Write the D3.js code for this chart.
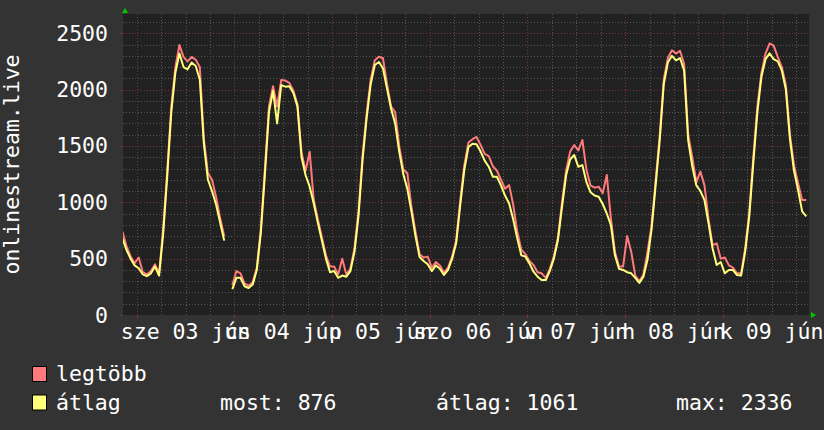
<!DOCTYPE html>
<meta charset="utf-8">
<script src="https://d3js.org/d3.v7.min.js"></script>
<style>
  body { margin: 0; background: #333333; }
  text { font-family: "DejaVu Sans Mono", monospace; fill: #ffffff; font-size: 21.5px; }
</style>

<div id="graph"></div>

<script>

  // one sample per hour, first one at 2020-06-02 20:30 UTC
  var startTime = Date.UTC(2020, 5, 2, 20, 30);
  var stepMs = 3600 * 1000;

  // átlag (average)
  var avgValues = [
    680, 577, 500, 440, 415, 360, 345, 370, 430, 350, 720, 1230,
    1800, 2150, 2320, 2200, 2180, 2240, 2210, 2090, 1520, 1200, 1100, 980,
    820, 660, null, 230, 330, 330, 255, 240, 270, 399, 730, 1250,
    1800, 1990, 1700, 2040, 2026, 2030, 1970, 1849, 1400, 1240, 1139, 990,
    820, 660, 500, 380, 390, 330, 350, 340, 390, 560, 880, 1380,
    1750, 2050, 2218, 2245, 2190, 2010, 1830, 1700, 1450, 1250, 1120, 920,
    700, 515, 480, 450, 390, 440, 410, 355, 400, 500, 640, 980,
    1290, 1490, 1520, 1515, 1450, 1370, 1316, 1227, 1227, 1150, 1060, 990,
    850, 680, 530, 518, 458, 384, 340, 310, 310, 390, 500, 665,
    960, 1240, 1380, 1420, 1316, 1330, 1180, 1090, 1060, 1050, 985, 900,
    800, 530, 410, 400, 380, 370, 330, 285, 340, 490, 760, 1150,
    1550, 2050, 2240, 2300, 2260, 2280, 2170, 1550, 1320, 1150, 1100, 1020,
    813, 590, 444, 470, 370, 400, 399, 355, 350, 560, 873, 1350,
    1800, 2115, 2270, 2322, 2270, 2250, 2170, 2000, 1560, 1280, 1109, 920,
    876
  ];

  // legtöbb (maximum)
  var maxValues = [
    740, 610, 520, 460, 510, 380, 360, 390, 450, 370, 760, 1280,
    1850, 2200, 2396, 2290, 2250, 2290, 2265, 2200, 1560, 1260, 1200, 1050,
    860, 700, null, 265, 390, 370, 280, 260, 290, 420, 760, 1300,
    1850, 2030, 1850, 2085, 2080, 2060, 1990, 1870, 1440, 1280, 1449, 1020,
    850, 690, 530, 430, 430, 360, 500, 360, 410, 590, 920, 1420,
    1790, 2090, 2260, 2292, 2280, 2050, 1850, 1800, 1500, 1290, 1260, 960,
    740, 540, 510, 518, 420, 470, 440, 375, 420, 520, 660, 1020,
    1330, 1530, 1560, 1580, 1510, 1430, 1410, 1320, 1280, 1200, 1120, 1153,
    980, 740, 580, 540, 480, 444, 380, 370, 330, 410, 520, 690,
    1000, 1280, 1450, 1508, 1460, 1553, 1290, 1150, 1130, 1139, 1080, 1242,
    860, 560, 430, 430, 700, 562, 350, 300, 360, 560, 790, 1190,
    1590, 2090, 2280, 2350, 2320, 2345, 2230, 1600, 1400, 1180, 1272, 1150,
    850, 620, 636, 500, 510, 440, 420, 370, 370, 590, 910, 1400,
    1850, 2150, 2320, 2410, 2390, 2290, 2200, 2040, 1600, 1330, 1170, 1020,
    1020
  ];

  var yTicks = [0, 500, 1000, 1500, 2000, 2500];
  var dayLabels = ["sze 03 jún", "cs 04 jún", "p 05 jún", "szo 06 jún",
                   "v 07 jún", "h 08 jún", "k 09 jún"];
  var yTitle = "onlinestream.live";
  var legendNames = ["legtöbb", "átlag"];
  var legendColors = ["#ff7b7b", "#ffff7b"];
  var legendStats = ["most: 876", "átlag: 1061", "max: 2336"];

  // set the dimensions and margins of the graph
  var margin = {top: 14, right: 15, bottom: 115, left: 123},
      width = 686,
      height = 301;

  var root = d3.select("#graph")
    .append("svg")
      .attr("width", 824)
      .attr("height", 430)
      .style("display", "block");

  root.append("rect")
      .attr("width", 824).attr("height", 430)
      .attr("fill", "#333333");

  var svg = root.append("g")
      .attr("transform", "translate(" + margin.left + "," + margin.top + ")");

  // scales
  var x = d3.scaleUtc()
    .domain([Date.UTC(2020, 5, 2, 20, 38), Date.UTC(2020, 5, 9, 21, 11)])
    .range([0, width]);

  var y = d3.scaleLinear()
    .domain([0, 2671])
    .range([height, 0]);

  // plot background
  svg.append("rect")
      .attr("width", width).attr("height", height)
      .attr("fill", "#212121");

  // grid
  var minorGrid = "#575757", majorGrid = "#7a3434";
  var hMinor = d3.range(100, 2700, 100).filter(function(v) { return v % 500 != 0 && y(v) > 0; });
  var days = d3.utcDay.range(x.domain()[0], x.domain()[1]);
  var sixHours = d3.utcHour.every(6).range(x.domain()[0], x.domain()[1])
      .filter(function(d) { return d.getUTCHours() != 0; });

  var grid = svg.append("g")
      .attr("shape-rendering", "crispEdges")
      .attr("stroke-dasharray", "1,2");

  grid.selectAll(".hmin").data(hMinor).enter().append("line")
      .attr("x1", 0).attr("x2", width)
      .attr("y1", function(d) { return Math.round(y(d)) + 0.5; })
      .attr("y2", function(d) { return Math.round(y(d)) + 0.5; })
      .attr("stroke", minorGrid);

  grid.selectAll(".vmin").data(sixHours).enter().append("line")
      .attr("y1", 0).attr("y2", height)
      .attr("x1", function(d) { return Math.round(x(d)) + 0.5; })
      .attr("x2", function(d) { return Math.round(x(d)) + 0.5; })
      .attr("stroke", minorGrid);

  grid.selectAll(".hmaj").data(yTicks.slice(1)).enter().append("line")
      .attr("x1", 0).attr("x2", width)
      .attr("y1", function(d) { return Math.round(y(d)) + 0.5; })
      .attr("y2", function(d) { return Math.round(y(d)) + 0.5; })
      .attr("stroke", majorGrid);

  grid.selectAll(".vmaj").data(days).enter().append("line")
      .attr("y1", 0).attr("y2", height)
      .attr("x1", function(d) { return Math.round(x(d)) + 0.5; })
      .attr("x2", function(d) { return Math.round(x(d)) + 0.5; })
      .attr("stroke", majorGrid);

  // small tick marks outside the plot
  var ticks = svg.append("g").attr("shape-rendering", "crispEdges");
  ticks.selectAll(".yt").data(yTicks).enter().append("line")
      .attr("x1", -3).attr("x2", 0)
      .attr("y1", function(d) { return Math.round(y(d)) + 0.5; })
      .attr("y2", function(d) { return Math.round(y(d)) + 0.5; })
      .attr("stroke", majorGrid);
  ticks.selectAll(".xt").data(days).enter().append("line")
      .attr("y1", height).attr("y2", height + 3)
      .attr("x1", function(d) { return Math.round(x(d)) + 0.5; })
      .attr("x2", function(d) { return Math.round(x(d)) + 0.5; })
      .attr("stroke", majorGrid);

  // y axis labels
  svg.append("g").selectAll("text").data(yTicks).enter().append("text")
      .attr("x", -15)
      .attr("y", function(d) { return y(d); })
      .attr("dy", "0.35em")
      .attr("text-anchor", "end")
      .text(function(d) { return d; });

  // x axis labels, centred on noon of every day
  svg.append("g").selectAll("text").data(dayLabels).enter().append("text")
      .attr("x", function(d, i) { return x(d3.utcHour.offset(days[i], 12)); })
      .attr("y", height + 24)
      .attr("text-anchor", "middle")
      .text(function(d) { return d; });

  // Y axis title
  root.append("text")
      .attr("transform", "translate(19," + (margin.top + height / 2) + ") rotate(-90)")
      .attr("text-anchor", "middle")
      .text(yTitle);

  // lines
  var series = [maxValues, avgValues];
  var line = d3.line()
      .defined(function(d) { return d != null; })
      .x(function(d, i) { return x(new Date(startTime + i * stepMs)); })
      .y(function(d) { return y(d); });

  var plot = svg.append("g");
  plot.append("clipPath").attr("id", "clip")
    .append("rect").attr("width", width).attr("height", height);

  plot.selectAll("path").data(series).enter().append("path")
      .attr("clip-path", "url(#clip)")
      .attr("d", line)
      .attr("fill", "none")
      .attr("stroke", function(d, i) { return legendColors[i]; })
      .attr("stroke-width", 2)
      .attr("stroke-linejoin", "round");

  // arrows
  root.append("path")
      .attr("d", "M" + (margin.left - 1) + "," + (margin.top - 1) + " l3,-5 l3,5 z")
      .attr("fill", "#00cc00");
  root.append("path")
      .attr("d", "M" + (margin.left + width + 2) + "," + (margin.top + height - 3) + " l5,3 l-5,3 z")
      .attr("fill", "#00cc00");

  // legend
  var legend = root.append("g");
  legendNames.forEach(function(name, i) {
    legend.append("rect")
        .attr("x", 32.5).attr("y", 366.5 + i * 28.5)
        .attr("width", 14).attr("height", 15)
        .attr("fill", legendColors[i])
        .attr("stroke", "#000");
    legend.append("text")
        .attr("x", 56).attr("y", 381 + i * 28.5)
        .text(name);
  });
  var statX = [220, 436, 676];
  legendStats.forEach(function(s, i) {
    legend.append("text")
        .attr("x", statX[i]).attr("y", 409.5)
        .text(s);
  });

</script>
